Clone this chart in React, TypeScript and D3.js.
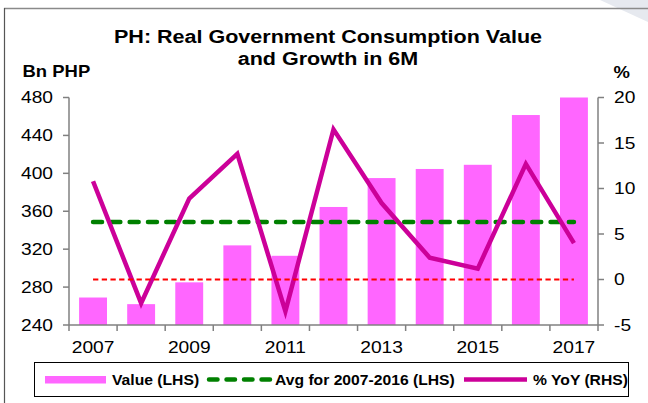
import React from "react";
import * as d3 from "d3";

const years = ["2007","2008","2009","2010","2011","2012","2013","2014","2015","2016","2017"];
const values = [269, 262, 285, 324, 313, 364.5, 395, 404.6, 409, 461.5, 480];
const yoy = [10.8, -2.6, 8.9, 13.8, -3.5, 16.5, 8.4, 2.4, 1.2, 12.7, 4.0];
const avgValue = 348.7;
const leftTicks = [240, 280, 320, 360, 400, 440, 480];
const rightTicks = [-5, 0, 5, 10, 15, 20];
const xLabels = ["2007","2009","2011","2013","2015","2017"];

const FONT = "'Liberation Sans', Arial, sans-serif";
const SX = 1.2;

function T({ x, y, children, size = 16, bold = false, anchor = "start", sx = SX }: any) {
  return (
    <text
      transform={`translate(${x},${y}) scale(${sx},1)`}
      fontSize={size}
      fontWeight={bold ? "bold" : "normal"}
      textAnchor={anchor}
      fontFamily={FONT}
      fill="#000"
    >
      {children}
    </text>
  );
}

export default function App() {
  const W = 648, H = 403;
  const left = 69, right = 598, top = 97.5, bottom = 325;
  const x = d3.scaleBand<string>().domain(years).range([left, right]).paddingInner(0.42).paddingOuter(0.21);
  const yL = d3.scaleLinear().domain([240, 480]).range([bottom, top]);
  const yR = d3.scaleLinear().domain([-5, 20]).range([bottom, top]);
  const cx = (d: string) => (x(d) as number) + x.bandwidth() / 2;
  const line = d3.line<number>().x((_, i) => cx(years[i])).y((d) => yR(d));
  const step = x.step();
  const boundaries = d3.range(years.length + 1).map((i) => left + i * step);
  const x0 = cx(years[0]);
  const x1 = cx(years[years.length - 1]);
  const axisColor = "#808080";

  return (
    <svg width={W} height={H} style={{ position: "absolute", left: 0, top: 0, background: "#fff" }}>
      <rect x={0} y={0} width={W} height={H} fill="#fff" />
      <polygon points="600,0 648,0 648,22" fill="#e6e9ef" />
      <line x1={4} y1={8.5} x2={648} y2={8.5} stroke="#8a8a8a" strokeWidth={1.5} />
      <line x1={4.5} y1={8} x2={4.5} y2={403} stroke="#555" strokeWidth={1.2} />

      <T x={328} y={43} size={17.5} bold anchor="middle" sx={1.23}>PH: Real Government Consumption Value</T>
      <T x={328} y={65} size={17.5} bold anchor="middle" sx={1.23}>and Growth in 6M</T>
      <T x={22.5} y={77} size={16.5} bold sx={1.12}>Bn PHP</T>
      <T x={613.5} y={78} size={16.5} bold sx={1.12}>%</T>

      {years.map((d, i) => (
        <rect key={d} x={x(d)} y={yL(values[i])} width={x.bandwidth()} height={bottom - yL(values[i])} fill="#FF66FF" />
      ))}

      <line x1={x0} x2={x1} y1={yL(avgValue)} y2={yL(avgValue)} stroke="#008000" strokeWidth={4.5} strokeDasharray="9 9.3" strokeLinecap="round" />
      <path d={line(yoy) || ""} fill="none" stroke="#CC0099" strokeWidth={4.5} strokeLinejoin="miter" />
      <line x1={x0} x2={x1} y1={yR(0)} y2={yR(0)} stroke="#FF0000" strokeWidth={2} strokeDasharray="5.3 3.4" />

      {/* axes */}
      <line x1={left} x2={left} y1={top} y2={bottom} stroke={axisColor} strokeWidth={1.5} />
      <line x1={right} x2={right} y1={top} y2={bottom} stroke={axisColor} strokeWidth={1.5} />
      <line x1={left} x2={right} y1={bottom} y2={bottom} stroke={axisColor} strokeWidth={1.5} />
      {leftTicks.map((t) => (
        <g key={"l" + t}>
          <line x1={left - 6} x2={left} y1={yL(t)} y2={yL(t)} stroke={axisColor} strokeWidth={1.5} />
          <T x={53} y={yL(t) + 5.5} anchor="end">{t}</T>
        </g>
      ))}
      {rightTicks.map((t) => (
        <g key={"r" + t}>
          <line x1={right} x2={right + 6} y1={yR(t)} y2={yR(t)} stroke={axisColor} strokeWidth={1.5} />
          <T x={614} y={yR(t) + 5.5}>{t}</T>
        </g>
      ))}
      {boundaries.map((b, i) => (
        <line key={"b" + i} x1={b} x2={b} y1={bottom} y2={bottom + 6} stroke={axisColor} strokeWidth={1.5} />
      ))}
      {xLabels.map((d) => (
        <T key={"x" + d} x={cx(d)} y={352.5} anchor="middle">{d}</T>
      ))}

      {/* legend */}
      <rect x={34.5} y={362.5} width={594} height={34} fill="#fff" stroke="#000" strokeWidth={1} />
      <rect x={45} y={376} width={61} height={7.5} fill="#FF66FF" />
      <T x={112} y={384.5} size={14} bold sx={1.12}>Value (LHS)</T>
      <line x1={209} x2={270} y1={379.5} y2={379.5} stroke="#008000" strokeWidth={4.5} strokeDasharray="8.5 9" strokeLinecap="round" />
      <T x={275} y={384.5} size={14} bold sx={1.12}>Avg for 2007-2016 (LHS)</T>
      <line x1={464} x2={527} y1={379.5} y2={379.5} stroke="#CC0099" strokeWidth={4.5} />
      <T x={533} y={384.5} size={14} bold sx={1.12}>% YoY (RHS)</T>
    </svg>
  );
}
